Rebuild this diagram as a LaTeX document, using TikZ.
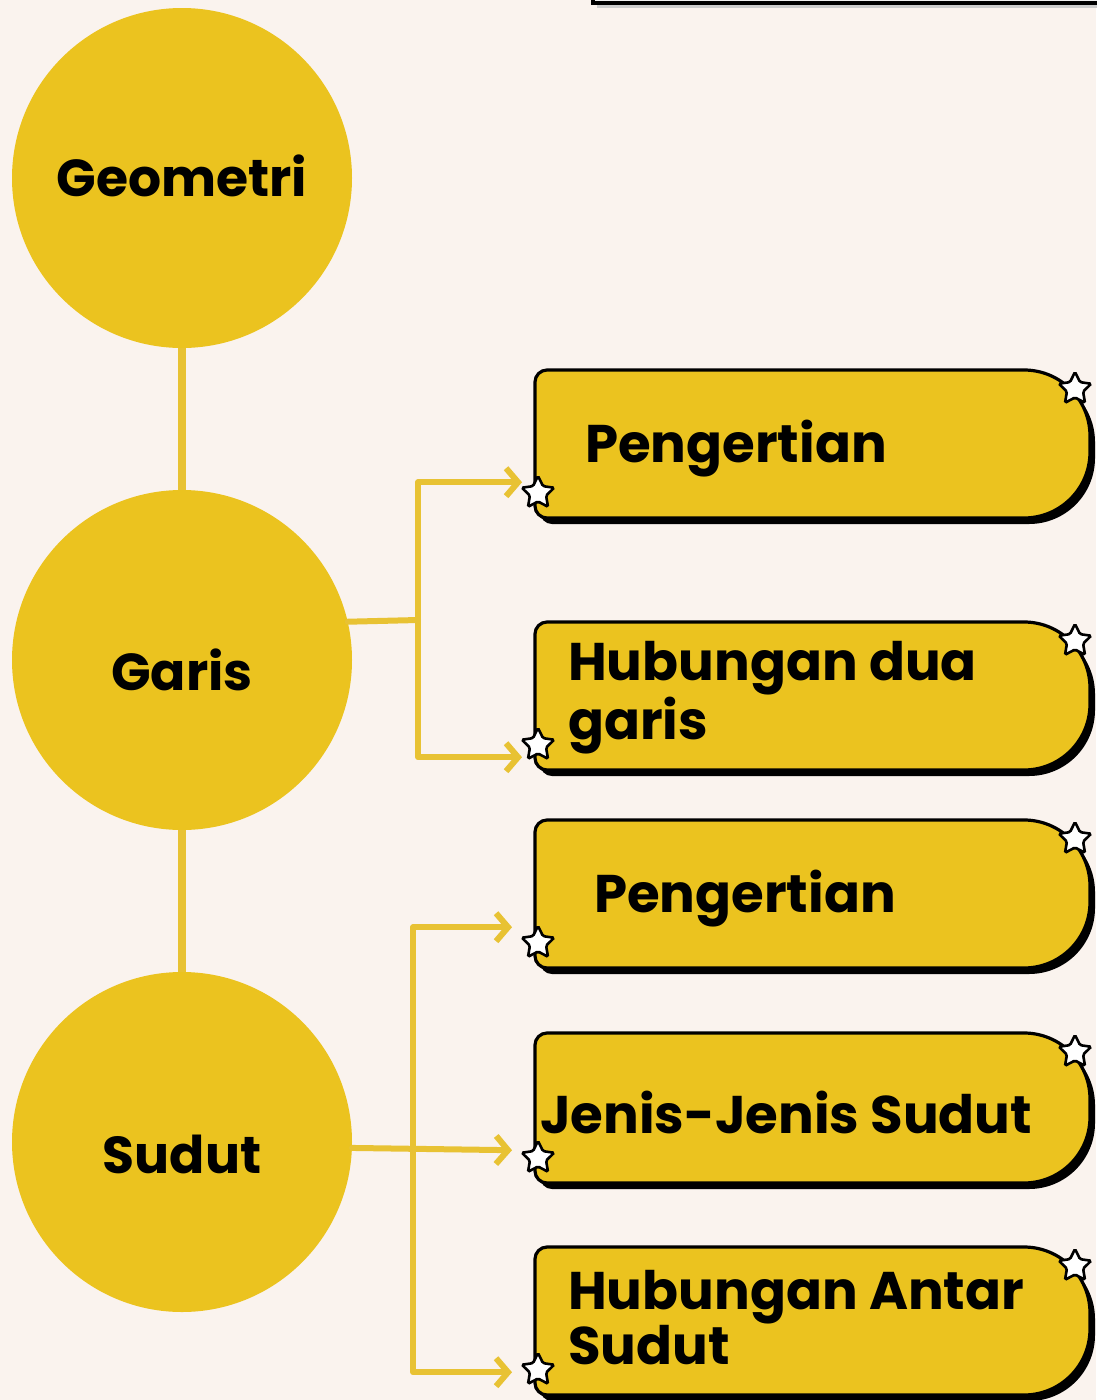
\documentclass[tikz,border=0pt]{standalone}
\usepackage{fontspec}
\setmainfont{Poppins}[BoldFont={* Bold}]
\usetikzlibrary{shapes.geometric,arrows.meta,calc}
\definecolor{bgc}{HTML}{FAF3EE}
\definecolor{ylw}{HTML}{EBC31F}
\definecolor{conn}{HTML}{E8C233}
\newcommand{\boxshape}[4]{(#1,#2+12) arc (180:270:12) -- (#3-66,#2) arc (270:360:66) -- (#3,#4-66) arc (0:90:66) -- (#1+12,#4) arc (90:180:12) -- cycle}
\tikzset{
  bigcirc/.style={circle, fill=ylw, minimum size=340pt, inner sep=0pt},
  circtxt/.style={anchor=base, inner sep=0pt, font=\fontsize{52}{56}\selectfont\bfseries},
  boxtxt/.style={anchor=base west, align=left, inner sep=0pt, font=\fontsize{53}{50}\selectfont\bfseries},
  starmark/.style={star, star points=5, star point ratio=2.0, minimum size=34pt, inner sep=0pt, draw=black, fill=white, line width=2.6pt, rounded corners=1.5pt},
  link/.style={draw=conn, line width=8pt},
  branch/.style={draw=conn, line width=6pt, line cap=round, line join=round},
  arr/.style={branch, -{Straight Barb[length=12pt,width=28pt,line width=6pt]}}
}
\begin{document}
\begin{tikzpicture}[x=1pt,y=-1pt]
\fill[bgc] (0,0) rectangle (1096,1400);
\useasboundingbox (0,0) rectangle (1096,1400);
% top frame
\fill[gray!40] (597,-30) rectangle (1130,8);
\draw[line width=4pt, fill=gray!12] (593,-30) rectangle (1130,3);
% circles
\node[bigcirc] (geo) at (182,178) {};
\node[bigcirc] (garis) at (182,660) {};
\node[bigcirc] (sudut) at (182,1142) {};
\node[circtxt] (geoT) at (182,196) {Geometri};
\node[circtxt] (garisT) at (182,690) {Garis};
\node[circtxt] (sudutT) at (182,1173) {Sudut};
\draw[link] (geo.south) -- (garis.north);
\draw[link] (garis.south) -- (sudut.north);
% boxes
\foreach \i/\t/\b in {1/370/518, 2/622/770, 3/820/968, 4/1033/1183, 5/1247/1395}{
  \fill[black] [shift={(5,6)}] \boxshape{535}{\t}{1090}{\b};
  \draw[fill=ylw, line width=3.2pt] \boxshape{535}{\t}{1090}{\b};
  \node[inner sep=0pt, minimum width=555pt, minimum height={\b-\t}, anchor=north west] (b\i) at (535,\t) {};
  \node[starmark] (st\i) at (1075,\t+19) {};
  \node[starmark] (sb\i) at (538,\b-25) {};
}
\node[boxtxt] (t1) at (585,462) {Pengertian};
\node[boxtxt] (t2) at (568,739) {Hubungan dua\\garis};
\node[boxtxt] (t3) at (594,912) {Pengertian};
\node[boxtxt] (t4) at (540,1133) {Jenis-Jenis Sudut};
\node[boxtxt] (t5) at (568,1364) {Hubungan Antar\\Sudut};
% garis branch
\coordinate (jg) at (418,620);
\draw[branch] (garis.13.6) -- (jg);
\draw[arr] (jg) |- ($(b1.west)+(-13,38)$);
\draw[arr] (jg) |- ($(b2.west)+(-13,61)$);
% sudut branch
\coordinate (js) at (413,1150);
\draw[arr] (sudut.-2.7) -- ($(b4.west)+(-23,42)$);
\draw[arr] (js) |- ($(b3.west)+(-23,33)$);
\draw[arr] (js) |- ($(b5.west)+(-23,51)$);
\end{tikzpicture}
\end{document}
